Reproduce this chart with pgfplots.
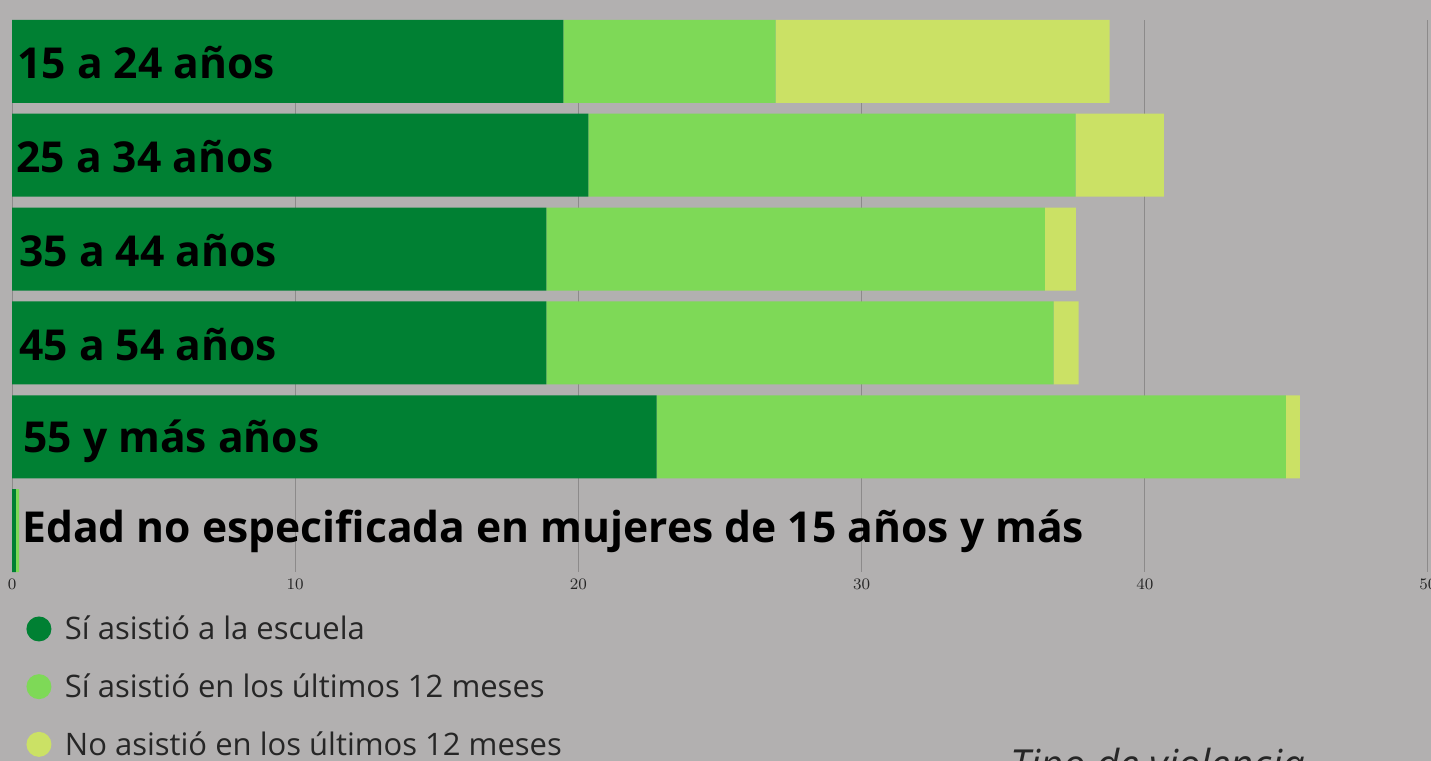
\documentclass[border=0pt]{standalone}
\usepackage{pgfplots}
\pgfplotsset{compat=1.18}
\usepackage{fontspec}
\setmainfont{Open Sans}
\definecolor{bg}{HTML}{B2B0B0}
\definecolor{c1}{HTML}{008033}
\definecolor{c2}{HTML}{7ED957}
\definecolor{c3}{HTML}{CBE165}
\definecolor{gridc}{HTML}{8C8A8A}
\tikzset{lab/.style={anchor=base west, inner sep=0pt, font=\fontsize{21.3}{25}\selectfont\bfseries}}
\begin{document}
\begin{tikzpicture}
\path[use as bounding box, clip] (0pt,0pt) rectangle (715.5pt,380.5pt);
\fill[bg] (0pt,0pt) rectangle (715.5pt,380.5pt);
\begin{axis}[
  at={(6pt,94.5pt)}, anchor=south west,
  scale only axis, width=708pt, height=276pt,
  xmin=0, xmax=50, ymin=-0.44, ymax=5.44, y dir=reverse,
  xbar stacked, bar width=41.5pt,
  xtick={0,10,20,30,40,50}, ytick=\empty,
  xmajorgrids, grid style={gridc, line width=0.5pt},
  axis line style={draw=none}, major tick style={draw=none},
  xticklabel style={font=\fontsize{8.5}{10}\selectfont, text=black!85, yshift=0pt},
  clip=false,
  legend style={at={(axis description cs:0.0102,-0.0760)}, anchor=north west,
    draw=none, fill=none, inner sep=0pt, outer sep=0pt,
    font=\fontsize{15.5}{18}\selectfont, text=black!85,
    row sep=11.85pt,
    nodes={text height=13pt, text depth=4pt, inner sep=0pt}},
  legend cell align=left,
  legend image code/.code={\fill[#1] (6.25pt,1pt) circle (6.25pt);},
]
\addplot[fill=c1, draw=none] coordinates {(19.47,0) (20.35,1) (18.87,2) (18.87,3) (22.76,4) (0.14,5)};
\addplot[fill=c2, draw=none] coordinates {(7.49,0) (17.21,1) (17.60,2) (17.91,3) (22.22,4) (0.11,5)};
\addplot[fill=c3, draw=none] coordinates {(11.80,0) (3.11,1) (1.10,2) (0.88,3) (0.50,4) (0,5)};
\legend{\hspace*{6.75pt}Sí asistió a la escuela, \hspace*{6.75pt}Sí asistió en los últimos 12 meses, \hspace*{6.75pt}No asistió en los últimos 12 meses}
\coordinate (r0) at (axis cs:0,0);
\coordinate (r1) at (axis cs:0,1);
\coordinate (r2) at (axis cs:0,2);
\coordinate (r3) at (axis cs:0,3);
\coordinate (r4) at (axis cs:0,4);
\coordinate (r5) at (axis cs:0,5);
\end{axis}
\node[lab, xshift=2.5pt, yshift=-8.75pt] at (r0) {15 a 24 años};
\node[lab, xshift=2pt, yshift=-8.75pt] at (r1) {25 a 34 años};
\node[lab, xshift=3.5pt, yshift=-8.75pt] at (r2) {35 a 44 años};
\node[lab, xshift=3.5pt, yshift=-9pt] at (r3) {45 a 54 años};
\node[lab, xshift=5.5pt, yshift=-8pt] at (r4) {55 y más años};
\node[lab, xshift=5pt, yshift=-6pt] at (r5) {Edad no especificada en mujeres de 15 años y más};
\node[anchor=base west, inner sep=0pt, font=\fontsize{20}{22}\selectfont\itshape, text=black!85] at (505pt,-8.8pt) {Tipo de violencia};
\end{tikzpicture}
\end{document}
